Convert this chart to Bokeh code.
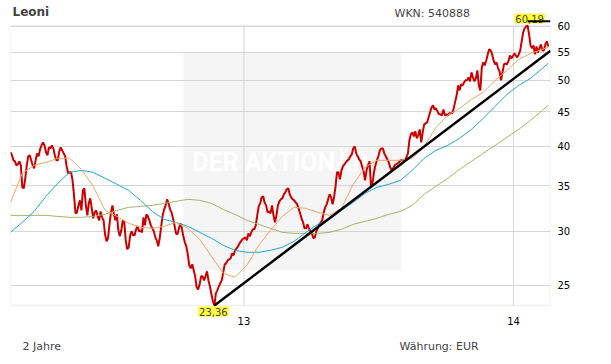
import numpy as np
import pandas as pd
from bokeh.plotting import figure
from bokeh.layouts import column
from bokeh.models import (Range1d, FixedTicker, PrintfTickFormatter,
                          DatetimeTickFormatter, Label, Arrow, BoxAnnotation)
from bokeh.embed import file_html
from bokeh.resources import INLINE

# ---------------- data ----------------
title_text = "Leoni"
wkn_text = "WKN: 540888"
period_text = "2 Jahre"
currency_text = "Währung: EUR"

start_date = "2012-02-20"
end_date = "2014-02-20"
step_days = 2

# closing prices, read every 2 days
close = [
    39.21, 38.81, 38.16, 38.03, 37.52, 37.65, 38.03, 37.52, 34.83, 34.72,
    35.91, 37.52, 38.68, 38.81, 38.16, 37.52, 37.14, 38.16, 39.07, 38.68,
    39.60, 40.14, 40.55, 40.14, 39.21, 38.81, 39.87, 39.73, 40.14, 39.73,
    38.81, 38.16, 38.16, 39.34, 39.87, 39.47, 39.07, 38.68, 37.39, 36.52,
    36.64, 36.64, 35.67, 33.90, 31.90, 32.00, 32.77, 33.33, 32.22, 34.48,
    34.72, 32.77, 31.68, 32.99, 33.56, 32.44, 31.36, 32.00, 32.22, 31.57,
    31.15, 32.11, 31.47, 31.15, 29.71, 29.02, 29.32, 30.73, 32.00, 32.77,
    31.79, 31.15, 31.79, 30.12, 29.51, 30.12, 31.15, 30.94, 29.12, 28.25,
    28.44, 29.61, 30.02, 29.61, 29.61, 30.22, 30.53, 30.02, 30.12, 29.92,
    31.47, 30.63, 31.79, 31.57, 31.15, 30.63, 30.32, 30.02, 29.41, 29.12,
    28.53, 29.32, 30.53, 31.68, 32.33, 32.77, 33.45, 32.99, 32.33, 32.00,
    31.36, 30.63, 29.81, 29.71, 30.32, 30.84, 30.32, 29.51, 28.92, 28.53,
    27.77, 26.76, 26.49, 26.85, 26.31, 25.78, 24.84, 24.67, 25.09, 25.78,
    25.78, 25.43, 25.78, 26.22, 25.43, 24.93, 24.26, 23.69, 23.36, 24.34,
    24.59, 24.93, 25.18, 25.43, 26.13, 26.85, 26.94, 27.21, 27.30, 27.40,
    27.87, 27.68, 28.15, 28.34, 28.53, 28.82, 29.02, 29.22, 29.32, 29.41,
    29.12, 29.81, 29.51, 29.92, 30.22, 30.22, 30.63, 31.68, 32.66, 32.99,
    33.67, 33.79, 33.10, 32.77, 32.00, 32.11, 31.90, 32.77, 31.68, 30.94,
    31.68, 32.77, 33.22, 33.45, 33.56, 34.02, 34.25, 34.60, 34.72, 34.02,
    33.67, 33.45, 33.33, 33.10, 32.88, 32.44, 31.90, 31.36, 30.94, 30.32,
    30.32, 30.73, 30.32, 30.02, 29.81, 29.32, 29.41, 30.02, 30.32, 30.73,
    30.94, 31.15, 32.00, 32.55, 32.88, 33.45, 34.02, 33.67, 32.88, 33.67,
    34.95, 36.64, 36.64, 35.79, 36.89, 37.39, 37.65, 37.90, 38.16, 38.29,
    38.68, 38.94, 39.73, 40.00, 39.07, 38.68, 38.29, 38.03, 37.39, 36.77,
    35.67, 36.89, 37.52, 38.03, 34.95, 35.31, 36.64, 37.52, 38.16, 38.68,
    39.47, 39.73, 39.73, 39.07, 38.68, 38.29, 37.90, 37.27, 36.89, 37.14,
    37.52, 37.65, 37.78, 37.90, 38.16, 38.16, 38.16, 38.16, 38.55, 39.07,
    40.83, 41.66, 41.95, 41.38, 42.09, 41.10, 41.52, 42.37, 40.55, 41.95,
    43.10, 43.24, 43.39, 44.13, 44.88, 45.64, 45.95, 45.33, 45.49, 45.03,
    44.58, 44.58, 44.43, 45.33, 44.43, 44.58, 44.43, 44.73, 44.73, 44.73,
    45.49, 46.57, 47.53, 49.16, 48.34, 49.33, 49.16, 49.66, 50.00, 50.00,
    50.51, 49.83, 51.37, 50.51, 49.83, 50.34, 51.72, 49.16, 48.34, 52.25,
    53.13, 52.60, 53.49, 54.59, 55.52, 55.33, 54.59, 53.49, 52.78, 53.13,
    52.07, 51.54, 50.00, 51.37, 52.78, 52.96, 52.78, 53.31, 54.40, 53.85,
    54.22, 54.77, 54.40, 54.04, 54.59, 55.33, 57.04, 58.81, 59.59, 60.00,
    60.19, 58.40, 56.27, 55.71, 56.27, 54.59, 56.08, 54.96, 55.71, 56.46,
    55.33, 55.33, 56.46, 57.04, 56.08,
]

# moving averages, read every 16 days (plus the last day)
ma38 = [33.10, 36.52, 37.52, 37.90, 38.42, 38.42, 37.01, 34.95, 32.22, 31.57,
        30.84, 30.43, 30.32, 30.53, 30.94, 30.32, 29.22, 27.59, 26.05, 25.69,
        26.76, 28.63, 30.12, 31.57, 32.55, 32.44, 32.00, 31.68, 32.44, 35.19,
        37.27, 38.16, 38.16, 38.16, 38.42, 40.00, 42.66, 44.43, 45.49, 46.89,
        48.01, 50.00, 51.72, 53.67, 54.77, 55.52, 55.89]
ma100 = [29.92, 30.94, 32.11, 33.79, 35.31, 36.64, 36.89, 36.64, 35.91, 35.19,
         34.48, 33.33, 32.11, 31.26, 30.94, 30.53, 29.92, 29.32, 28.63, 28.15,
         27.96, 27.96, 28.15, 28.44, 29.02, 29.92, 30.73, 31.26, 32.22, 33.10,
         34.13, 34.83, 35.19, 35.67, 36.89, 38.42, 39.47, 40.14, 41.11, 42.37,
         43.98, 45.80, 47.69, 49.16, 50.34, 52.07, 52.96]
ma200 = [31.68, 31.68, 31.68, 31.68, 31.57, 31.47, 31.47, 31.57, 31.79, 32.22,
         32.55, 32.66, 32.77, 32.99, 33.22, 33.45, 33.33, 32.99, 32.33, 31.79,
         31.15, 30.73, 30.32, 29.91, 29.81, 29.81, 29.81, 29.91, 30.22, 30.73,
         31.05, 31.36, 31.79, 32.11, 32.77, 34.02, 34.95, 35.91, 37.01, 38.03,
         39.07, 40.14, 41.24, 42.37, 43.68, 45.18, 45.95]

y_ticks = [25, 30, 35, 40, 45, 50, 55, 60]
x_ticks = ["2013-01-01", "2014-01-01"]

low_value = 23.36
high_value = 60.19
low_text = "23,36"
high_text = "60,19"
trend_end_value = 55.26

# watermark (decoration)
wm_left, wm_right = "2012-10-11", "2013-08-02"
wm_bottom, wm_top = 26.31, 55.0
wm_text = "DER AKTIONÄR"
wm_text_x, wm_text_y = "2012-10-23", 37.9

# ---------------- layout constants (pixels) ----------------
W = 611
MAIN_H = 332
FOOT_H = 364 - MAIN_H
BOX_TOP = 25        # top of plotting box inside the frame
BOX_BOTTOM = 305    # bottom of plotting box inside the frame
FRAME_BOTTOM = 318  # bottom of the frame
MARKER_UP = 4.3     # max marker line sits this far above the box

def ms(d):
    return pd.Timestamp(d).value / 1e6

dates = pd.date_range(start_date, periods=len(close), freq=f"{step_days}D")
ma_dates = list(dates[::8]) + [dates[-1]]

low_i = int(np.argmin(close))
high_i = int(np.argmax(close))
low_date = dates[low_i]
high_date = dates[high_i]

x0 = pd.Timestamp(start_date)
x1 = pd.Timestamp(end_date)

ppl = (BOX_BOTTOM - BOX_TOP) / np.log(high_value / low_value)
y_start = low_value * np.exp(-(FRAME_BOTTOM - BOX_BOTTOM) / ppl)
y_end = high_value * np.exp(BOX_TOP / ppl)
y_marker = high_value * np.exp(MARKER_UP / ppl)

p = figure(width=W, height=MAIN_H, x_axis_type="datetime", y_axis_type="log",
           x_range=Range1d(x0, x1), y_range=Range1d(y_start, y_end),
           y_axis_location="right", output_backend="svg", toolbar_location=None,
           min_border_left=10, min_border_right=61, min_border_top=0,
           min_border_bottom=MAIN_H - FRAME_BOTTOM)
p.background_fill_color = "white"
p.border_fill_color = "white"
p.outline_line_color = None

# watermark box under the grid
p.quad(left=[pd.Timestamp(wm_left)], right=[pd.Timestamp(wm_right)],
       bottom=[wm_bottom], top=[wm_top], fill_color="#f5f5f5",
       line_color=None, level="image")
p.add_layout(Label(x=ms(wm_text_x), y=wm_text_y, text=wm_text,
                   text_color="white", text_font="Roboto",
                   text_font_style="bold", text_font_size="25px",
                   text_baseline="middle", text_align="left", level="image"))

# grid
grid_color = "#d6d6d6"
p.xgrid.visible = False
p.segment(x0=[pd.Timestamp(t) for t in x_ticks], y0=[low_value] * len(x_ticks),
          x1=[pd.Timestamp(t) for t in x_ticks], y1=[high_value] * len(x_ticks),
          line_color=grid_color, line_width=1, level="underlay")
p.ygrid.ticker = FixedTicker(ticks=y_ticks)
p.ygrid.grid_line_color = grid_color
p.ygrid.grid_line_width = 1

# plotting box border
p.add_layout(BoxAnnotation(left=ms(x0), right=ms(x1), bottom=low_value,
                           top=high_value, fill_alpha=0, line_color="#c8c8c8",
                           line_width=1.5, level="underlay"))

# axes
p.yaxis.ticker = FixedTicker(ticks=y_ticks)
p.yaxis.formatter = PrintfTickFormatter(format="%d")
p.xaxis.ticker = FixedTicker(ticks=[ms(t) for t in x_ticks])
p.xaxis.formatter = DatetimeTickFormatter(
    microseconds="%y", milliseconds="%y", seconds="%y", minsec="%y",
    minutes="%y", hourmin="%y", hours="%y", days="%y", months="%y", years="%y")
for ax in (p.xaxis, p.yaxis):
    ax.axis_line_color = None
    ax.major_tick_line_color = None
    ax.minor_tick_line_color = None
    ax.major_tick_out = 0
    ax.major_label_text_font = "DejaVu Sans"
    ax.major_label_text_font_size = "10px"
    ax.major_label_text_color = "black"
p.yaxis.major_label_standoff = 7
p.xaxis.major_label_standoff = -2

# series
p.line(dates, close, line_color="#cc0000", line_width=2)
p.line(ma_dates, ma200, line_color="#a3b46a", line_width=1)
p.line(ma_dates, ma100, line_color="#1ea8d2", line_width=1)
p.line(ma_dates, ma38, line_color="#f0a466", line_width=1)
p.line([low_date, x1], [low_value, trend_end_value], line_color="black",
       line_width=2.5)

# min / max markers
p.add_layout(Label(x=ms(low_date), y=low_value, text=low_text,
                   text_align="center", text_baseline="top", y_offset=-1,
                   x_offset=-1, text_font="DejaVu Sans", text_font_size="10px",
                   background_fill_color="#ffff33", padding=1))
p.add_layout(Label(x=ms(high_date), y=high_value, text=high_text,
                   text_align="center", text_baseline="bottom", y_offset=2,
                   x_offset=2, text_font="DejaVu Sans", text_font_size="10px",
                   background_fill_color="#ffff33", padding=1))
p.add_layout(Arrow(end=None, x_start=ms(high_date), x_end=ms(x1),
                   y_start=y_marker, y_end=y_marker,
                   line_color="black", line_width=2))

# header texts (screen units, measured from the frame's bottom-left)
p.add_layout(Label(x=2, y=FRAME_BOTTOM - 18, x_units="screen", y_units="screen",
                   text=title_text, text_font="DejaVu Sans",
                   text_font_style="bold", text_font_size="12px"))
p.add_layout(Label(x=384, y=FRAME_BOTTOM - 19, x_units="screen", y_units="screen",
                   text=wkn_text, text_font="DejaVu Sans", text_font_size="11px"))

# footer
f = figure(width=W, height=FOOT_H, x_range=Range1d(0, W), y_range=Range1d(0, FOOT_H),
           x_axis_location=None, y_axis_location=None, output_backend="svg",
           toolbar_location=None, min_border=0)
f.outline_line_color = None
f.xgrid.visible = False
f.ygrid.visible = False
f.background_fill_color = "white"
f.border_fill_color = "white"
f.add_layout(Label(x=12, y=FOOT_H - 20, x_units="screen", y_units="screen",
                   text=period_text, text_font="DejaVu Sans", text_font_size="11px"))
f.add_layout(Label(x=389, y=FOOT_H - 20, x_units="screen", y_units="screen",
                   text=currency_text, text_font="DejaVu Sans", text_font_size="11px"))

layout = column(p, f, spacing=0)
open("out.html", "w").write(file_html(layout, INLINE))
